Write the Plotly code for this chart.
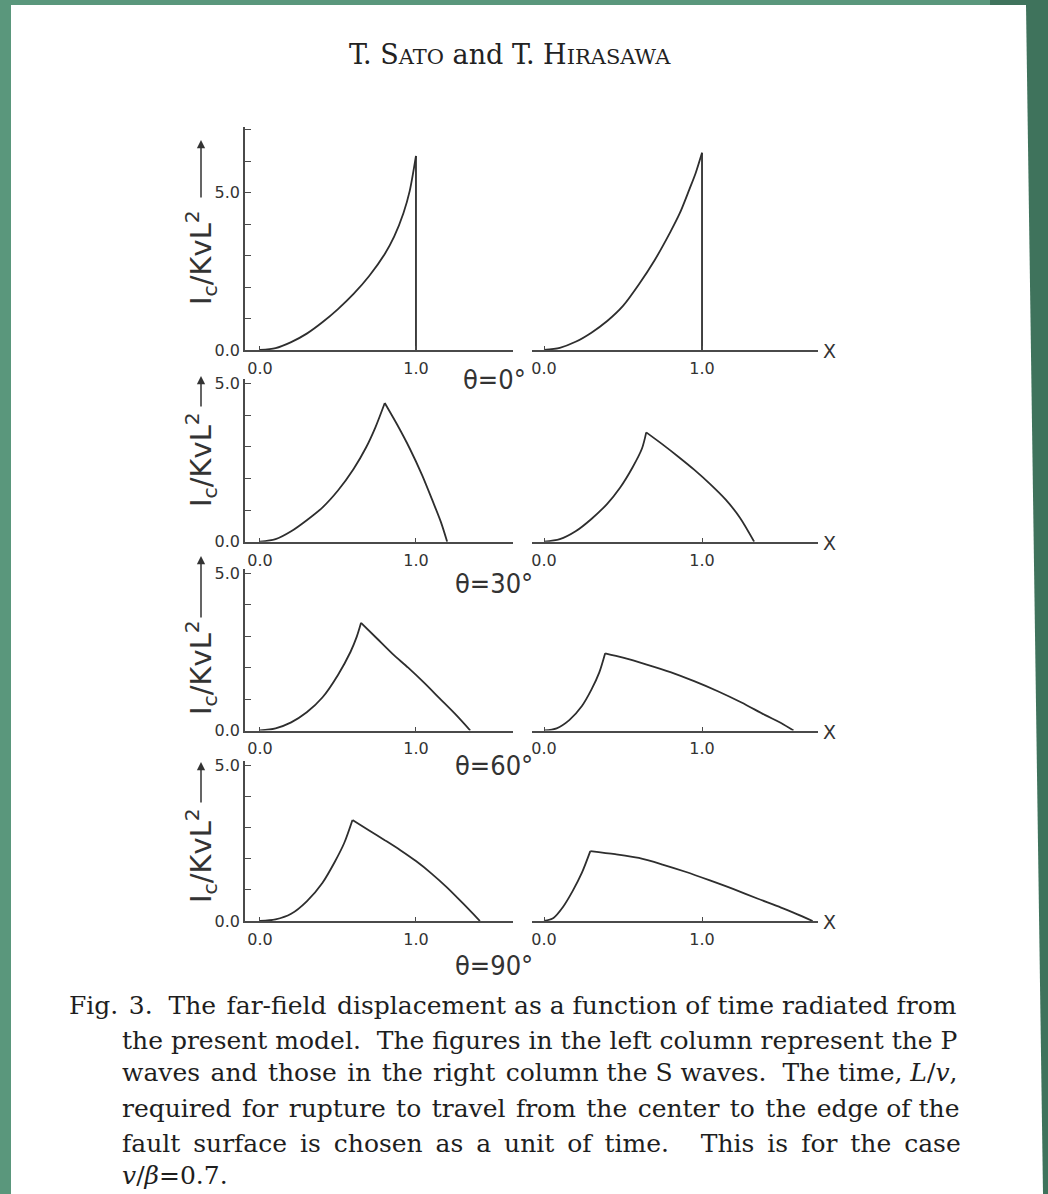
import plotly.graph_objects as go

W, H = 1048, 1194

# ---------------- data ----------------
# theta = 0 deg
p0_x = [0.00, 0.10, 0.20, 0.30, 0.40, 0.50, 0.60, 0.70, 0.80, 0.86, 0.92, 0.96, 1.00, 1.00]
p0_y = [0.00, 0.06, 0.25, 0.52, 0.88, 1.30, 1.78, 2.35, 3.05, 3.60, 4.35, 5.05, 6.16, 0.00]
s0_x = [0.00, 0.10, 0.20, 0.30, 0.40, 0.50, 0.60, 0.70, 0.80, 0.86, 0.92, 0.96, 1.00, 1.00]
s0_y = [0.00, 0.07, 0.26, 0.55, 0.92, 1.40, 2.08, 2.85, 3.75, 4.35, 5.10, 5.62, 6.26, 0.00]
# theta = 30 deg
p30_x = [0.00, 0.10, 0.20, 0.30, 0.40, 0.50, 0.60, 0.68, 0.74, 0.80, 0.88, 0.96, 1.04, 1.11, 1.16, 1.20]
p30_y = [0.00, 0.08, 0.33, 0.68, 1.08, 1.62, 2.30, 2.98, 3.62, 4.39, 3.70, 2.95, 2.10, 1.25, 0.62, 0.00]
s30_x = [0.00, 0.10, 0.20, 0.30, 0.40, 0.48, 0.56, 0.62, 0.647, 0.75, 0.85, 0.95, 1.05, 1.15, 1.24, 1.33]
s30_y = [0.00, 0.08, 0.33, 0.72, 1.20, 1.70, 2.35, 2.95, 3.46, 3.08, 2.69, 2.28, 1.83, 1.33, 0.76, 0.00]
# theta = 60 deg
p60_x = [0.00, 0.10, 0.20, 0.30, 0.40, 0.50, 0.58, 0.62, 0.648, 0.75, 0.85, 0.95, 1.05, 1.15, 1.26, 1.348]
p60_y = [0.00, 0.07, 0.26, 0.58, 1.05, 1.77, 2.50, 2.98, 3.43, 2.93, 2.44, 2.00, 1.53, 1.03, 0.48, 0.00]
s60_x = [0.00, 0.08, 0.16, 0.24, 0.30, 0.35, 0.387, 0.50, 0.65, 0.80, 0.95, 1.10, 1.25, 1.40, 1.50, 1.579]
s60_y = [0.00, 0.07, 0.33, 0.78, 1.30, 1.85, 2.46, 2.32, 2.10, 1.86, 1.57, 1.25, 0.89, 0.49, 0.24, 0.00]
# theta = 90 deg
p90_x = [0.00, 0.10, 0.20, 0.30, 0.40, 0.48, 0.54, 0.593, 0.70, 0.80, 0.90, 1.00, 1.10, 1.20, 1.30, 1.41]
p90_y = [0.00, 0.05, 0.23, 0.63, 1.22, 1.90, 2.50, 3.24, 2.90, 2.59, 2.27, 1.92, 1.52, 1.07, 0.57, 0.00]
s90_x = [0.00, 0.06, 0.12, 0.18, 0.24, 0.293, 0.45, 0.60, 0.75, 0.90, 1.05, 1.20, 1.35, 1.50, 1.60, 1.70]
s90_y = [0.00, 0.10, 0.45, 0.95, 1.55, 2.24, 2.14, 2.02, 1.81, 1.57, 1.30, 1.02, 0.72, 0.43, 0.22, 0.00]

theta_labels = ["θ=0°", "θ=30°", "θ=60°", "θ=90°"]
x_tick_vals = [0, 1]
x_tick_text = ["0.0", "1.0"]
y_label_vals = {0: "0.0", 5: "5.0"}

NB = "\u00a0"
caption_lines = [
    "Fig. 3." + NB * 2 + "The far-field displacement as a function of time radiated from",
    "the present model." + NB * 2 + "The figures in the left column represent the P",
    "waves and those in the right column the S waves." + NB * 2 + "The time, <i>L</i>/<i>v</i>,",
    "required for rupture to travel from the center to the edge of the",
    "fault surface is chosen as a unit of time." + NB * 4 + "This is for the case",
    "<i>v</i>/<i>β</i>=0.7.",
]

# ---------------- layout helpers ----------------
def fx(p):
    return p / W

def fy(p):
    return 1 - p / H

def widen(line, pad, n):
    """insert a small extra space after the first n word gaps (imitates justification)"""
    out, c = [], 0
    for ch in line:
        out.append(ch)
        if ch == " " and c < n:
            out.append(pad)
            c += 1
    return "".join(out)

# (pad character, number of gaps) per caption line
caption_pad = [("\u200a", 3), ("", 0), ("\u200a", 6), ("\u200a", 10), ("\u2009", 12), ("", 0)]
cap_y = [1006, 1040, 1072, 1108, 1143, 1175]

INK = "#2e2e2e"
AX = "#4a4a4a"

rows = [
    dict(zero=350.0, unit=31.5, top=7.08, nt=7, theta_y=379, title_y=258, arr=(199, 140)),
    dict(zero=541.7, unit=31.6, top=5.15, nt=5, theta_y=583, title_y=460, arr=(408, 376)),
    dict(zero=730.5, unit=31.4, top=5.13, nt=5, theta_y=765, title_y=668, arr=(619, 556)),
    dict(zero=921.0, unit=31.2, top=5.13, nt=5, theta_y=966, title_y=856, arr=(804, 762)),
]
series = [
    (p0_x, p0_y, s0_x, s0_y),
    (p30_x, p30_y, s30_x, s30_y),
    (p60_x, p60_y, s60_x, s60_y),
    (p90_x, p90_y, s90_x, s90_y),
]

left_dom = [fx(245), fx(513)]
left_rng = [-0.096, 1.622]
right_dom = [fx(532), fx(818)]
right_rng = [-0.076, 1.734]

tickfont = dict(family="DejaVu Sans, sans-serif", size=16, color="#333")

fig = go.Figure()
layout = dict(
    width=W, height=H,
    margin=dict(l=0, r=0, t=0, b=0, pad=0, autoexpand=False),
    paper_bgcolor="#5A977C",
    plot_bgcolor="rgba(0,0,0,0)",
    showlegend=False,
    annotations=[],
    shapes=[],
)

k = 0
for r, (row, (px_, py_, sx_, sy_)) in enumerate(zip(rows, series)):
    ydom = [fy(row["zero"]), fy(row["zero"] - row["top"] * row["unit"])]
    for side, (xs, ys) in enumerate([(px_, py_), (sx_, sy_)]):
        k += 1
        xn = "x" if k == 1 else f"x{k}"
        yn = "y" if k == 1 else f"y{k}"
        xkey = "xaxis" if k == 1 else f"xaxis{k}"
        ykey = "yaxis" if k == 1 else f"yaxis{k}"
        ipk = max(range(len(ys)), key=lambda i: ys[i])
        # rising branch and falling branch drawn as smooth curves meeting at the cusp
        for seg in (slice(0, ipk + 1), slice(ipk, None)):
            fig.add_trace(go.Scatter(
                x=xs[seg], y=ys[seg], mode="lines", xaxis=xn, yaxis=yn,
                line=dict(color=INK, width=1.8, shape="spline", smoothing=0.8),
                hoverinfo="skip", cliponaxis=False,
            ))
        layout[xkey] = dict(
            domain=left_dom if side == 0 else right_dom,
            range=left_rng if side == 0 else right_rng,
            anchor=yn, showline=True, linecolor=AX, linewidth=1.5,
            showgrid=False, zeroline=False, ticks="inside", ticklen=4,
            tickwidth=1.2, tickcolor=AX, automargin=False,
            tickvals=x_tick_vals, ticktext=x_tick_text, tickfont=tickfont,
            ticklabelstandoff=3, fixedrange=True,
        )
        if side == 0:
            tv = list(range(row["nt"] + 1))
            layout[ykey] = dict(
                domain=ydom, range=[0, row["top"]], anchor=xn,
                showline=True, linecolor=AX, linewidth=1.5,
                showgrid=False, zeroline=False, ticks="inside", ticklen=6,
                tickwidth=1.2, tickcolor=AX, automargin=False,
                tickvals=tv, ticktext=[y_label_vals.get(v, "") for v in tv],
                tickfont=tickfont, fixedrange=True,
            )
        else:
            layout[ykey] = dict(domain=ydom, range=[0, row["top"]], anchor=xn,
                                visible=False, fixedrange=True, automargin=False)
    layout["annotations"].append(dict(
        text=theta_labels[r], xref="paper", yref="paper", x=fx(494), y=fy(row["theta_y"]),
        showarrow=False, xanchor="center", yanchor="middle",
        font=dict(family="Liberation Sans Narrow, DejaVu Sans Condensed, sans-serif", size=27, color="#333"),
    ))
    layout["annotations"].append(dict(
        text="X", xref="paper", yref="paper", x=fx(821), y=fy(row["zero"] + 1),
        showarrow=False, xanchor="left", yanchor="middle",
        font=dict(family="DejaVu Sans, sans-serif", size=19, color="#333"),
    ))
    layout["annotations"].append(dict(
        text="I<sub>c</sub>/KvL<sup>2</sup>", xref="paper", yref="paper",
        x=fx(201), y=fy(row["title_y"]), textangle=-90, showarrow=False,
        xanchor="center", yanchor="middle",
        font=dict(family="DejaVu Sans, sans-serif", size=29, color="#333"),
    ))
    tail, tip = row["arr"]
    layout["annotations"].append(dict(
        text="", xref="paper", yref="paper", x=fx(201), y=fy(tip),
        showarrow=True, ax=0, ay=tail - tip, axref="pixel", ayref="pixel",
        arrowhead=2, arrowsize=1.1, arrowwidth=1.5, arrowcolor="#333",
    ))

# running head with small capitals
SC = "<span style='font-size:21px'>"
layout["annotations"].append(dict(
    text=f"T. S{SC}ATO</span> and T. H{SC}IRASAWA</span>", xref="paper", yref="paper",
    x=fx(510), y=fy(55), showarrow=False, xanchor="center", yanchor="middle",
    font=dict(family="DejaVu Serif, serif", size=27, color="#222"),
))

for i, (line, yy) in enumerate(zip(caption_lines, cap_y)):
    pad, n = caption_pad[i]
    txt = widen(line, pad, n) if n else line
    layout["annotations"].append(dict(
        text=txt, xref="paper", yref="paper", x=fx(67 if i == 0 else 120), y=fy(yy),
        showarrow=False, xanchor="left", yanchor="middle",
        font=dict(family="DejaVu Serif, serif", size=25, color="#1e1e1e"),
    ))

def path(pts):
    return "M " + " L ".join(f"{fx(a)},{fy(b)}" for a, b in pts) + " Z"

layout["shapes"].append(dict(
    type="path", xref="paper", yref="paper", layer="below",
    path=path([(990, 0), (1048, 0), (1048, 1194), (990, 1194)]),
    fillcolor="#3F735C", line=dict(width=0),
))
layout["shapes"].append(dict(
    type="path", xref="paper", yref="paper", layer="below",
    path=path([(11, 5), (1026, 5), (1043, 1194), (11, 1194)]),
    fillcolor="#ffffff", line=dict(width=0),
))

fig.update_layout(**layout)
fig.write_html("out.html")
